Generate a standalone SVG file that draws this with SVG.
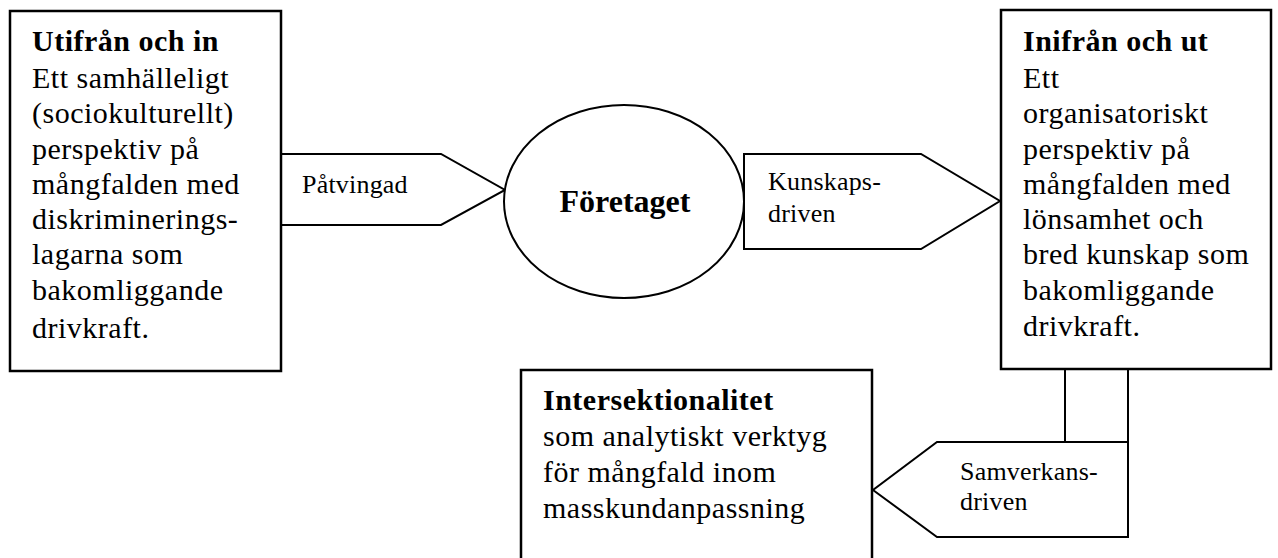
<svg xmlns="http://www.w3.org/2000/svg" width="1278" height="558" viewBox="0 0 1278 558">
<style>
.box{fill:#fff;stroke:#000;stroke-width:2.5}
.arr{fill:#fff;stroke:#000;stroke-width:2;stroke-linejoin:miter}
.ln{stroke:#000;stroke-width:2;fill:none}
text{font-family:"Liberation Serif","Times New Roman",serif;fill:#000}
.body{font-size:30px;letter-spacing:0.5px}
.title{font-size:30px;font-weight:bold;letter-spacing:0.5px}
.lab{font-size:26px;letter-spacing:0.2px}
.center{font-size:32px;font-weight:bold}
</style>
<g id="connectors">
<polygon id="c-patvingad" class="arr" points="281,154 441,154 505,190 441,225 281,225"/>
<polygon id="c-kunskaps" class="arr" points="744,154 921,154 1000,201 921,249 744,249"/>
<line class="ln" x1="1065" y1="369" x2="1065" y2="442"/>
<line class="ln" x1="1128" y1="369" x2="1128" y2="442"/>
<polygon id="c-samverkans" class="arr" points="1128,442 937,442 873,490 937,537 1128,537"/>
<text class="lab" x="302" y="193">Påtvingad</text>
<text class="lab" x="768" y="190">Kunskaps-</text>
<text class="lab" x="768" y="222">driven</text>
<text class="lab" x="960" y="480">Samverkans-</text>
<text class="lab" x="960" y="510">driven</text>
</g>
<g id="node-utifran">
<rect class="box" x="10" y="11" width="271" height="360"/>
<text class="title" x="32" y="51">Utifrån och in</text>
<text class="body" x="32" y="88">Ett samhälleligt</text>
<text class="body" x="32" y="123">(sociokulturellt)</text>
<text class="body" x="32" y="159">perspektiv på</text>
<text class="body" x="32" y="194">mångfalden med</text>
<text class="body" x="32" y="229">diskriminerings-</text>
<text class="body" x="32" y="264">lagarna som</text>
<text class="body" x="32" y="300">bakomliggande</text>
<text class="body" x="32" y="338">drivkraft.</text>
</g>
<g id="node-foretaget">
<ellipse cx="624" cy="201.5" rx="120" ry="96.5" fill="#fff" stroke="#000" stroke-width="2"/>
<text class="center" x="625" y="212" text-anchor="middle">Företaget</text>
</g>
<g id="node-inifran">
<rect class="box" x="1001" y="10" width="270" height="359"/>
<text class="title" x="1023" y="51">Inifrån och ut</text>
<text class="body" x="1023" y="88">Ett</text>
<text class="body" x="1023" y="123">organisatoriskt</text>
<text class="body" x="1023" y="159">perspektiv på</text>
<text class="body" x="1023" y="194">mångfalden med</text>
<text class="body" x="1023" y="229">lönsamhet och</text>
<text class="body" x="1023" y="264">bred kunskap som</text>
<text class="body" x="1023" y="300">bakomliggande</text>
<text class="body" x="1023" y="336">drivkraft.</text>
</g>
<g id="node-intersektionalitet">
<rect class="box" x="521" y="370" width="351" height="200"/>
<text class="title" x="543" y="410">Intersektionalitet</text>
<text class="body" x="543" y="446">som analytiskt verktyg</text>
<text class="body" x="543" y="482">för mångfald inom</text>
<text class="body" x="543" y="518">masskundanpassning</text>
</g>
</svg>
